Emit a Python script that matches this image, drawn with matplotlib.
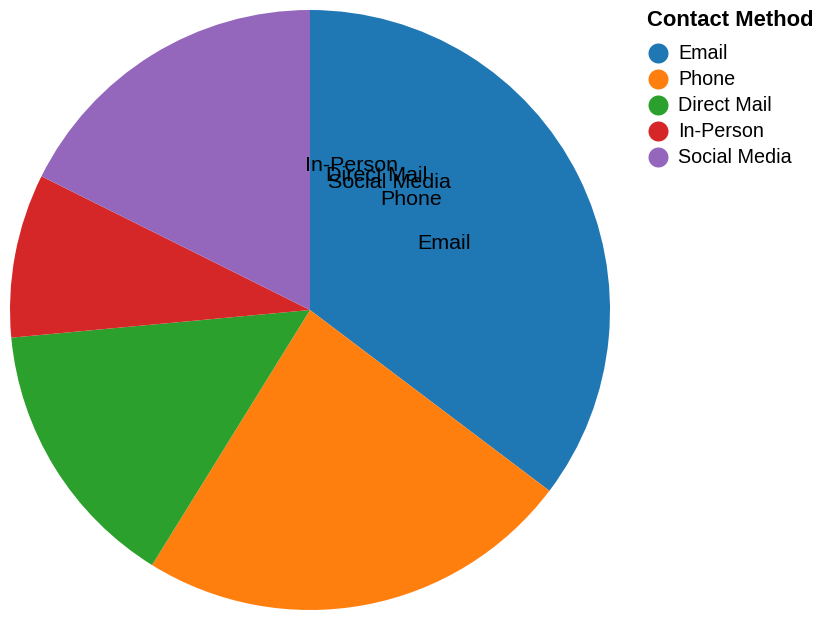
import numpy as np
import matplotlib
matplotlib.use("Agg")
import matplotlib.pyplot as plt

categories = ["Email", "Phone", "Direct Mail", "In-Person", "Social Media"]
values = [1200, 800, 500, 300, 600]
colors = ["#1f77b4", "#ff7f0e", "#2ca02c", "#d62728", "#9467bd"]
legend_title = "Contact Method"

plt.rcParams['font.family'] = ['Liberation Sans', 'DejaVu Sans']
W, H = 824, 620
DPI = 100
fig = plt.figure(figsize=(W / DPI, H / DPI), dpi=DPI)

# pie axes: center (310,310), radius 300 px
cx, cy, r = 310, 310, 300
ax = fig.add_axes([(cx - r) / W, (H - cy - r) / H, 2 * r / W, 2 * r / H])
ax.pie(values, colors=colors, startangle=90, counterclock=False, radius=1,
       wedgeprops=dict(linewidth=0))
ax.set_xlim(-1, 1)
ax.set_ylim(-1, 1)
ax.set_aspect('equal')
ax.axis('off')

# labels (unstacked theta: each at half its own angle, radius 0.5)
total = sum(values)
fs_px = 21.5
for cat, v in zip(categories, values):
    ang = np.pi * v / total  # clockwise from top
    x = 0.5 * np.sin(ang)
    y = 0.5 * np.cos(ang)
    ax.text(x, y, cat, ha='center', va='center', fontsize=fs_px * 72 / DPI,
            color='black')

# legend
lax = fig.add_axes([0, 0, 1, 1])
lax.set_xlim(0, W)
lax.set_ylim(H, 0)
lax.axis('off')
lax.text(647, 21, legend_title, fontsize=22 * 72 / DPI, fontweight='bold',
         ha='left', va='center')
for i, (cat, c) in enumerate(zip(categories, colors)):
    y = 53 + 26 * i
    lax.scatter([658], [y], s=(20 * 72 / DPI) ** 2, color=c, marker='o',
                linewidths=0)
    lax.text(678, y + 0.5, cat, fontsize=19.8 * 72 / DPI, ha='left', va='center')

fig.savefig("out.png", dpi=DPI)
